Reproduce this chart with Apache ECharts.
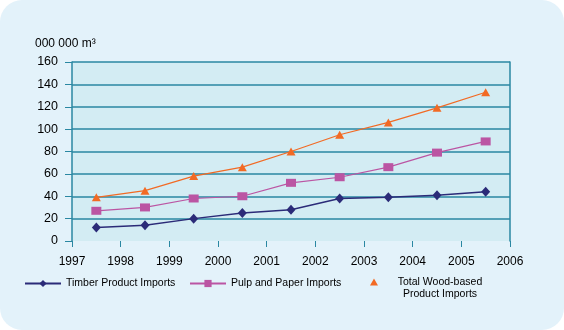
<!DOCTYPE html>
<html><head><meta charset="utf-8">
<script src="https://cdn.jsdelivr.net/npm/echarts@6/dist/echarts.min.js"></script>
<style>html,body{margin:0;padding:0;background:#fff}#c{width:564px;height:330px}</style>
</head><body><div id="c"></div>
<script>
var years = [1997.5, 1998.5, 1999.5, 2000.5, 2001.5, 2002.5, 2003.5, 2004.5, 2005.5];
var timber = [12, 14, 20, 25, 28, 38, 39, 41, 44];
var pulp = [27, 30, 38, 40, 52, 57, 66, 79, 89];
var total = [39, 45, 58, 66, 80, 95, 106, 119, 133];
var yTicks = [0, 20, 40, 60, 80, 100, 120, 140, 160];
var xTicks = [1997, 1998, 1999, 2000, 2001, 2002, 2003, 2004, 2005, 2006];
var unitLabel = '000 000 m³';
var names = ['Timber Product Imports', 'Pulp and Paper Imports', 'Total Wood-based Product Imports'];

function pairs(v){ return v.map(function(y,i){ return [years[i], y]; }); }
var teal = '#2a87a2';
var font = 'Liberation Sans, Arial, sans-serif';
var chart = echarts.init(document.getElementById('c'), null, {renderer:'canvas'});
var gridColors = yTicks.map(function(t, i){ return i === 0 ? 'rgba(0,0,0,0)' : teal; });
chart.setOption({
  animation: false,
  backgroundColor: '#ffffff',
  graphic: [
    {type:'rect', left:0, top:0, z:-10, shape:{x:0,y:0,width:564,height:330,r:22}, style:{fill:'#e3f2fa'}},
    {type:'text', left:35, top:38, style:{text:unitLabel, font:'12px ' + font, fill:'#000'}}
  ],
  grid: {left:72, right:54, top:62, bottom:89, show:true, backgroundColor:'#d3ecf3', borderWidth:0},
  xAxis: {type:'value', min:1997, max:2006, interval:1,
    axisLine:{show:false},
    axisTick:{show:true, length:6, lineStyle:{color:teal, width:1}},
    axisLabel:{margin:15, color:'#000', fontSize:12, fontFamily:font, showMinLabel:true, showMaxLabel:true,
      formatter:function(v){ return xTicks.indexOf(v) >= 0 ? String(v) : ''; }},
    splitLine:{show:false}},
  yAxis: [{type:'value', min:0, max:160, interval:20,
    axisLine:{show:true, lineStyle:{color:teal, width:1.5}},
    axisTick:{show:true, length:7, lineStyle:{color:teal, width:1}},
    axisLabel:{margin:14, color:'#000', fontSize:12.5, fontFamily:font},
    splitLine:{show:true, lineStyle:{color:gridColors, width:1.5}}},
    {type:'value', min:0, max:160, interval:20, position:'right',
    axisLine:{show:true, lineStyle:{color:teal, width:1.5}},
    axisTick:{show:false}, axisLabel:{show:false}, splitLine:{show:false}}],
  legend: [
    {data:[names[0]], left:24, top:278, padding:0, itemWidth:36, itemHeight:9, itemGap:5,
      textStyle:{fontSize:10.5, fontFamily:font, color:'#000'}},
    {data:[names[1]], left:189, top:278, padding:0, itemWidth:36, itemHeight:9, itemGap:5,
      textStyle:{fontSize:10.5, fontFamily:font, color:'#000'}},
    {data:[{name:names[2], icon:'path://M4,0L8,7L0,7Z M4,20L4,20.01'}], left:370, top:277, padding:0, itemWidth:8, itemHeight:20,
      formatter:function(){ return '{a|Total Wood-based}\n{a|Product Imports}'; },
      textStyle:{fontSize:10.5, fontFamily:font, color:'#000', rich:{a:{width:114, align:'center', fontSize:10.5, fontFamily:font, lineHeight:12}}}}
  ],
  series: [
    {name:names[0], type:'line', data:pairs(timber), symbol:'diamond', symbolSize:[9,10],
      itemStyle:{color:'#2b2b78'}, lineStyle:{color:'#2b2b78', width:1.5}},
    {name:names[1], type:'line', data:pairs(pulp), symbol:'rect', symbolSize:[10,8],
      itemStyle:{color:'#bb55a3'}, lineStyle:{color:'#bb55a3', width:1.2}},
    {name:names[2], type:'line', data:pairs(total), symbol:'triangle', symbolSize:[9,8],
      itemStyle:{color:'#f26a24'}, lineStyle:{color:'#f26a24', width:1.2}}
  ]
});
</script></body></html>
